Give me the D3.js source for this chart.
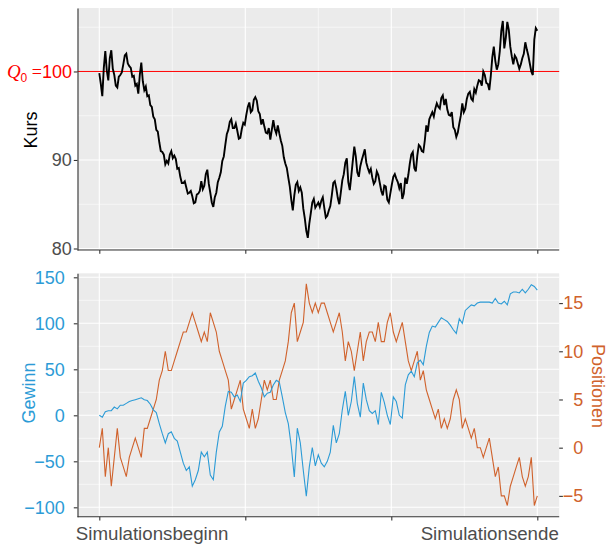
<!DOCTYPE html>
<html>
<head>
<meta charset="utf-8">
<script src="https://d3js.org/d3.v7.min.js"></script>
<style>
body { margin: 0; background: white; }
svg text { font-family: "Liberation Sans", Arial, Helvetica, sans-serif; }
</style>
</head>
<body>
<svg width="608" height="544"></svg>
<script>
// Kurs (Preis) der Simulation
var kurs = [99.8, 98.6, 97.2, 100.4, 102.3, 100.1, 99.0, 101.5, 102.4, 100.3,
  99.6, 98.4, 98.2, 99.4, 99.6, 99.9, 100.8, 101.8, 102.0, 100.9,
  100.6, 100.4, 99.4, 99.5, 98.4, 98.6, 97.5, 99.6, 101.0, 98.9,
  97.9, 98.3, 97.2, 97.3, 96.2, 96.0, 94.9, 94.6, 93.4, 93.2,
  92.0, 91.0, 90.9, 90.6, 89.5, 89.9, 89.6, 90.6, 91.0, 90.2,
  90.5, 90.1, 89.0, 89.1, 88.1, 87.4, 87.4, 87.6, 86.9, 86.2,
  86.3, 86.5, 85.9, 85.1, 85.2, 86.1, 86.2, 86.5, 87.6, 86.7,
  87.1, 88.4, 88.9, 87.3, 86.3, 85.2, 84.7, 85.8, 86.3, 87.5,
  88.0, 88.6, 89.9, 90.4, 91.7, 92.9, 93.4, 94.3, 94.6, 93.6,
  93.6, 94.1, 93.3, 92.4, 92.5, 93.5, 94.2, 94.0, 95.1, 96.0,
  96.5, 95.4, 95.6, 96.8, 97.1, 96.7, 95.5, 95.2, 94.0, 94.6,
  93.8, 93.1, 93.0, 93.6, 92.3, 93.4, 94.5, 93.5, 93.0, 93.9,
  93.0, 92.2, 91.6, 90.3, 89.6, 89.1, 88.0, 87.0, 85.5, 84.3,
  86.0, 87.2, 87.5, 86.5, 86.9, 86.3, 84.5, 83.4, 82.0, 81.2,
  82.8, 84.0, 85.2, 85.6, 84.6, 84.9, 85.2, 84.7, 85.4, 85.8,
  84.6, 83.5, 83.7, 84.3, 84.8, 86.0, 87.4, 87.6, 86.8, 85.7,
  85.0, 86.3, 87.7, 88.4, 89.7, 90.2, 87.5, 86.6, 88.2, 89.9,
  91.5, 90.4, 88.6, 88.1, 89.3, 90.0, 90.6, 91.2, 89.7, 89.1,
  88.6, 89.0, 88.0, 87.3, 87.6, 88.7, 88.3, 87.4, 86.5, 86.0,
  87.1, 87.0, 85.5, 85.2, 86.2, 87.2, 88.1, 88.4, 87.9, 87.5,
  86.8, 87.4, 85.6, 86.2, 88.0, 87.3, 88.3, 89.6, 90.6, 90.9,
  89.1, 88.7, 90.5, 91.7, 91.5, 91.0, 90.9, 92.2, 93.9, 93.2,
  94.6, 95.0, 95.4, 94.9, 95.8, 96.4, 96.0, 95.8, 97.0, 97.3,
  96.2, 96.9, 95.7, 95.1, 95.0, 95.4, 93.7, 93.4, 92.6, 93.1,
  94.1, 95.0, 96.4, 95.4, 95.8, 96.9, 97.5, 97.7, 96.9, 96.7,
  98.0, 97.6, 98.4, 99.0, 98.9, 98.4, 100.0, 99.6, 98.7, 98.6,
  97.9, 99.5, 101.6, 102.8, 101.2, 100.2, 100.8, 102.3, 104.6, 105.7,
  102.6, 103.8, 105.6, 104.7, 102.8, 101.7, 100.8, 101.8, 101.5, 100.9,
  100.3, 100.8, 101.5, 102.0, 103.3, 102.5, 101.8, 100.9, 100.0, 99.6,
  103.6, 104.9, 104.6];

// Gewinn
var gewinn = [0, -2, 4, 5, 5, 9, 7, 11, 11, 13,
  15, 16, 17, 18, 19, 17, 16, 12, 6, 3,
  -9, -20, -30, -20, -18, -25, -28, -40, -52, -60,
  -56, -77, -70, -60, -40, -45, -40, -65, -70, -40,
  -18, -12, 10, 26, 25, 20, 22, 15, 35, 38,
  42, 43, 46, 37, 30, 20, 24, 25, 33, 38,
  36, 20, 3, -9, -34, -67, -14, -30, -60, -88,
  -56, -35, -55, -43, -52, -56, -50, -40, -11, -30,
  -20, 6, 26, 0, 15, 42, 13, -2, 35, 17,
  5, 2, 5, -10, 25, 14, 0, -10, 20, 15,
  0, -3, 33, 44, 48, 42, 57, 60, 55, 75,
  90, 97, 96, 101, 106, 104, 102, 98, 93, 89,
  105, 100, 114, 117, 120, 119, 122, 123, 123, 123,
  123, 122, 127, 122, 121, 124, 120, 132, 134, 134,
  133, 137, 133, 137, 142, 140, 136];

// Positionen
var positionen = [0, 2, -3, 0, -4, -1, 2, -1, -2, -3,
  -1, 0, 1, 0, -1, 2, 2, 3, 4, 5,
  7, 8, 10, 8, 8, 9, 10, 11, 12, 12,
  13, 14, 13, 12, 11, 12, 11, 14, 13, 12,
  10, 9, 8, 7, 4, 5, 6, 7, 4, 3,
  2, 4, 2, 3, 5, 7, 6, 7, 5, 5,
  7, 8, 9, 11, 14, 15, 11, 12, 13, 17,
  15, 14, 15, 14, 15, 15, 14, 13, 12, 13,
  14, 12, 9, 11, 10, 8, 10, 12, 9, 11,
  12, 12, 11, 13, 11, 11, 13, 14, 12, 11,
  12, 13, 11, 9, 8, 9, 10, 7, 8, 6,
  5, 4, 3, 4, 2, 3, 2, 3, 5, 6,
  5, 2, 3, 2, 1, 2, 0, 0, -1, 0,
  1, -1, -3, -2, -5, -5, -6, -4, -3, -2,
  -1, -3, -4, -3, -1, -6, -5];

var xLabels = ["Simulationsbeginn", "", "", "Simulationsende"];
var kursTicks = [80, 90, 100];
var kursMinor = [85, 95, 105];
var gewinnTicks = [-100, -50, 0, 50, 100, 150];
var gewinnMinor = [-75, -25, 25, 75, 125];
var posTicks = [-5, 0, 5, 10, 15];
var q0 = 100;

var blau = "#2c9bd6";
var orange = "#d0622c";
var grau = "#4d4d4d";

var svg = d3.select("svg");

var left = 77.5, right = 559.2;
// both panels share the same time axis (0 = Beginn, 1 = Ende)
var x = d3.scaleLinear().domain([0, 1]).range([99.3, 537.3]);
var xMajor = [0, 1 / 3, 2 / 3, 1];
var xMinor = [1 / 6, 1 / 2, 5 / 6];
var tKurs = i => i / (kurs.length - 1);
var tPos = i => i / (positionen.length - 1);

var yKurs = d3.scaleLinear().domain([79.83, 107.17]).range([250, 8]);
var yGew = d3.scaleLinear().domain([-110.2, 154.35]).range([516.7, 273.3]);
var yPos = d3.scaleLinear().domain([-7.16, 18.09]).range([516.7, 273.3]);

function fmt(d) { return d < 0 ? "\u2212" + Math.abs(d) : "" + d; }

// background + grid of a panel
function panel(y, major, minor) {
  var top = y.range()[1], bottom = y.range()[0];
  var g = svg.append("g");
  g.append("rect").attr("x", left).attr("y", top)
    .attr("width", right - left).attr("height", bottom - top)
    .attr("fill", "#ebebeb");
  g.selectAll(".hmin").data(minor).enter().append("line")
    .attr("x1", left).attr("x2", right)
    .attr("y1", d => y(d)).attr("y2", d => y(d))
    .attr("stroke", "white").attr("stroke-width", 0.55);
  g.selectAll(".vmin").data(xMinor).enter().append("line")
    .attr("x1", d => x(d)).attr("x2", d => x(d))
    .attr("y1", top).attr("y2", bottom)
    .attr("stroke", "white").attr("stroke-width", 0.55);
  g.selectAll(".hmaj").data(major).enter().append("line")
    .attr("x1", left).attr("x2", right)
    .attr("y1", d => y(d)).attr("y2", d => y(d))
    .attr("stroke", "white").attr("stroke-width", 1.1);
  g.selectAll(".vmaj").data(xMajor).enter().append("line")
    .attr("x1", d => x(d)).attr("x2", d => x(d))
    .attr("y1", top).attr("y2", bottom)
    .attr("stroke", "white").attr("stroke-width", 1.1);
}

panel(yKurs, kursTicks, kursMinor);
panel(yGew, gewinnTicks, gewinnMinor);

// Q0 line
svg.append("line")
  .attr("x1", left).attr("x2", right)
  .attr("y1", yKurs(q0)).attr("y2", yKurs(q0))
  .attr("stroke", "#ff0000").attr("stroke-width", 1);

// price path
svg.append("path").datum(kurs)
  .attr("fill", "none").attr("stroke", "black").attr("stroke-width", 1.9)
  .attr("d", d3.line().x((d, i) => x(tKurs(i))).y(d => yKurs(d)));

// Positionen and Gewinn
svg.append("path").datum(positionen)
  .attr("fill", "none").attr("stroke", orange).attr("stroke-width", 1.1)
  .attr("d", d3.line().x((d, i) => x(tPos(i))).y(d => yPos(d)));
svg.append("path").datum(gewinn)
  .attr("fill", "none").attr("stroke", blau).attr("stroke-width", 1.1)
  .attr("d", d3.line().x((d, i) => x(tPos(i))).y(d => yGew(d)));

function styleAxis(g, color) {
  g.select(".domain").attr("stroke", "#333333").attr("stroke-width", 1.1);
  g.selectAll(".tick line").attr("stroke", "#333333").attr("stroke-width", 1.1);
  g.selectAll(".tick text").attr("fill", color).style("font-size", "18px");
}

// top axes
svg.append("g").attr("transform", "translate(" + left + ",0)")
  .call(d3.axisLeft(yKurs).tickValues(kursTicks).tickSize(3.7).tickSizeOuter(0).tickPadding(2)
    .tickFormat(d => d == q0 ? "" : d))
  .call(g => styleAxis(g, grau));
svg.append("g").attr("transform", "translate(0," + 250 + ")")
  .call(d3.axisBottom(x).tickValues(xMajor).tickSize(3.7).tickSizeOuter(0).tickFormat(""))
  .call(g => styleAxis(g, grau))
  .select(".domain").attr("d", "M" + left + ",0H" + right);

// red Q0 label
var q = svg.append("text").attr("x", 72).attr("y", yKurs(q0)).attr("dy", "0.36em")
  .attr("text-anchor", "end").attr("fill", "#ff0000").style("font-size", "18px");
q.append("tspan").text("Q").style("font-family", "'Liberation Serif', 'DejaVu Serif', serif").style("font-style", "italic").style("font-size", "19px");
q.append("tspan").text("0").attr("dy", 4).style("font-size", "12px");
q.append("tspan").text(" =").attr("dy", -4).style("font-family", "'Liberation Serif', serif");
q.append("tspan").text(q0);

// bottom axes
svg.append("g").attr("transform", "translate(" + left + ",0)")
  .call(d3.axisLeft(yGew).tickValues(gewinnTicks).tickSize(3.7).tickSizeOuter(0).tickPadding(9).tickFormat(fmt))
  .call(g => styleAxis(g, blau));
svg.append("g").attr("transform", "translate(" + right + ",0)")
  .call(d3.axisRight(yPos).tickValues(posTicks).tickSize(3.7).tickSizeOuter(0).tickPadding(0).tickFormat(fmt))
  .call(g => styleAxis(g, orange))
  .call(g => g.select(".domain").remove())
  .call(g => g.selectAll(".tick text").attr("text-anchor", "end").attr("x", 24));
svg.append("g").attr("transform", "translate(0," + 516.7 + ")")
  .call(d3.axisBottom(x).tickValues(xMajor).tickSize(3.7).tickSizeOuter(0).tickPadding(6)
    .tickFormat((d, i) => xLabels[i]))
  .call(g => styleAxis(g, grau))
  .call(g => g.select(".domain").attr("d", "M" + left + ",0H" + right))
  .call(g => g.selectAll(".tick text").style("font-size", "18.7px"))
  .call(g => g.selectAll(".tick text").filter((d, i) => i == 0).attr("text-anchor", "start").attr("dx", -24))
  .call(g => g.selectAll(".tick text").filter((d, i) => i == 3).attr("text-anchor", "end").attr("dx", 21));

// axis titles
svg.append("text").attr("transform", "translate(37," + 130 + ") rotate(-90)")
  .attr("text-anchor", "middle").style("font-size", "18px").attr("fill", "black").text("Kurs");
svg.append("text").attr("transform", "translate(35," + 393 + ") rotate(-90)")
  .attr("text-anchor", "middle").style("font-size", "18px").attr("fill", blau).text("Gewinn");
svg.append("text").attr("transform", "translate(592," + 386 + ") rotate(90)")
  .attr("text-anchor", "middle").style("font-size", "18px").attr("fill", orange).text("Positionen");
</script>
</body>
</html>
